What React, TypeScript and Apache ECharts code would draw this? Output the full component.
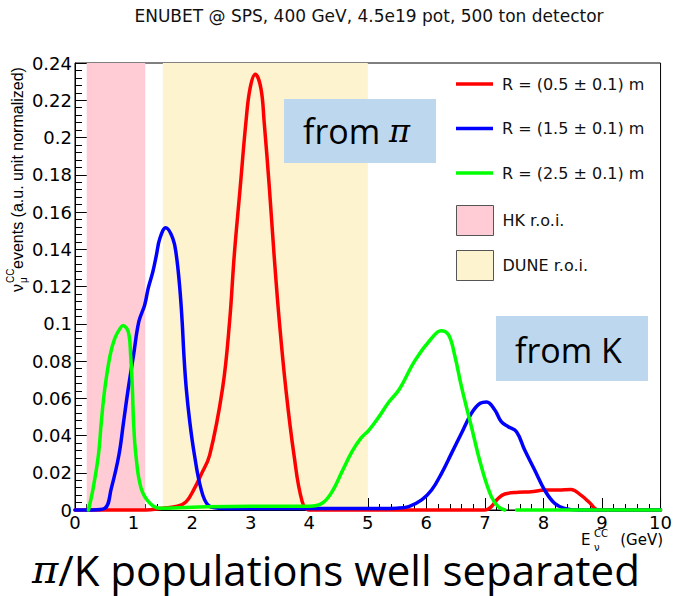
import React, { useEffect, useRef } from "react";
import * as echarts from "echarts";

// ---- data ----
const redName = "R = (0.5 ± 0.1) m";
const blueName = "R = (1.5 ± 0.1) m";
const greenName = "R = (2.5 ± 0.1) m";
const hkName = "HK r.o.i.";
const duneName = "DUNE r.o.i.";

const redE = [0, 0.6, 1.2, 1.5, 1.75, 1.9, 2.04, 2.15, 2.3, 2.52, 2.64, 2.72, 2.82, 2.92, 2.99, 3.08, 3.175, 3.23, 3.32, 3.4, 3.49, 3.6, 3.74, 3.88, 4.0, 4.5, 5.5, 6.5, 7.0, 7.11, 7.23, 7.34, 7.57, 7.79, 8.02, 8.25, 8.47, 8.64, 8.79, 8.93, 9.3, 10];
const redV = [0, 0, 0, 0.001, 0.002, 0.0045, 0.0116, 0.0188, 0.0295, 0.0653, 0.1011, 0.1369, 0.1727, 0.2085, 0.2264, 0.2339, 0.2264, 0.2085, 0.1727, 0.1369, 0.1011, 0.0653, 0.0295, 0.0045, 0, 0, 0, 0, 0, 0.0018, 0.0063, 0.0086, 0.0095, 0.0098, 0.0107, 0.0107, 0.011, 0.008, 0.0039, 0, 0, 0];

const blueE = [0, 0.3, 0.51, 0.62, 0.75, 0.83, 0.91, 1.0, 1.09, 1.19, 1.25, 1.33, 1.39, 1.45, 1.55, 1.67, 1.73, 1.79, 1.83, 1.86, 1.9, 1.96, 2.04, 2.15, 2.27, 2.45, 3, 4, 5, 5.5, 5.7, 5.92, 6.09, 6.26, 6.43, 6.6, 6.77, 6.92, 7.03, 7.17, 7.28, 7.4, 7.54, 7.68, 7.85, 8.02, 8.19, 8.36, 8.6, 9, 10];
const blueV = [0, 0, 0.0009, 0.0116, 0.0295, 0.0474, 0.0653, 0.0832, 0.1011, 0.1101, 0.119, 0.128, 0.1369, 0.1459, 0.1516, 0.1459, 0.1369, 0.119, 0.1011, 0.0832, 0.0653, 0.0474, 0.0295, 0.0116, 0.0027, 0.001, 0.0008, 0.0008, 0.0008, 0.001, 0.0018, 0.0054, 0.0107, 0.0197, 0.0304, 0.0412, 0.0519, 0.0573, 0.058, 0.0537, 0.0474, 0.0447, 0.042, 0.0322, 0.0215, 0.0107, 0.0036, 0.0009, 0, 0, 0];

const greenE = [0.23, 0.31, 0.4, 0.45, 0.51, 0.6, 0.68, 0.77, 0.82, 0.91, 0.95, 0.98, 1.0, 1.04, 1.13, 1.28, 1.45, 2, 3, 4, 4.22, 4.39, 4.56, 4.73, 4.88, 5.02, 5.19, 5.36, 5.53, 5.81, 6.09, 6.25, 6.38, 6.49, 6.6, 6.77, 6.94, 7.11, 7.23, 7.34, 7.44, 7.54, 8, 9, 10];
const greenV: (number | null)[] = [0, 0.0116, 0.0295, 0.0474, 0.0653, 0.0832, 0.0922, 0.0975, 0.099, 0.0957, 0.0832, 0.0653, 0.0474, 0.0295, 0.0116, 0.0036, 0.001, 0.0015, 0.002, 0.002, 0.0036, 0.0098, 0.0206, 0.0313, 0.0385, 0.0429, 0.05, 0.058, 0.0644, 0.0805, 0.0922, 0.0963, 0.094, 0.0823, 0.0662, 0.0447, 0.0233, 0.0072, 0.0018, 0, null, 0, 0, 0, 0];

const hkRange = [0.2, 1.2];
const duneRange = [1.5, 5.0];

const xMin = 0, xMax = 10, xStep = 1;
const yMin = 0, yMax = 0.24, yStep = 0.02;

const titleText = "ENUBET @ SPS, 400 GeV, 4.5e19 pot, 500 ton detector";
const yTitle = "events (a.u. unit normalized)";
const bottomText = "/K populations well separated";

const zip = (xs: number[], ys: (number | null)[]) =>
  xs.map((x, i) => [x, ys[i] === null ? NaN : ys[i]]);

const SANS = '"DejaVu Sans"';
const HELV = '"Liberation Sans"';
const SLIDE = '"Open Sans"';
const LINE_ICON = "path://M0,0 L37,0 L37,3.5 L0,3.5 Z";

export default function App() {
  const ref = useRef<HTMLDivElement>(null);
  useEffect(() => {
    const chart = echarts.init(ref.current!, undefined, { renderer: "svg" });
    const lineSeries = (name: string, color: string, xs: number[], ys: (number | null)[], z: number) => ({
      name,
      type: "line",
      data: zip(xs, ys),
      symbol: "none",
      showSymbol: false,
      smooth: 0.4,
      clip: false,
      connectNulls: false,
      z,
      itemStyle: { color },
      lineStyle: { color, width: 3.5, cap: "round", join: "round" },
    });
    const option: any = {
      animation: false,
      backgroundColor: "#fff",
      grid: { left: 75, right: 12, top: 63, bottom: 86, show: true, borderColor: "#000", borderWidth: 1, backgroundColor: "transparent" },
      xAxis: {
        type: "value", min: xMin, max: xMax, interval: xStep,
        axisLine: { show: true, lineStyle: { color: "#000", width: 1 } },
        axisTick: { show: true, inside: true, length: 12, lineStyle: { color: "#000" } },
        minorTick: { show: true, splitNumber: 5, length: 6, lineStyle: { color: "#000" } },
        splitLine: { show: false },
        axisLabel: { color: "#000", fontFamily: SANS, fontSize: 18, lineHeight: 12, margin: 6 },
      },
      yAxis: {
        type: "value", min: yMin, max: yMax, interval: yStep,
        axisLine: { show: true, lineStyle: { color: "#000", width: 1 } },
        axisTick: { show: true, inside: true, length: 15, lineStyle: { color: "#000" } },
        minorTick: { show: true, splitNumber: 5, length: 7, lineStyle: { color: "#000" } },
        splitLine: { show: false },
        axisLabel: { color: "#000", fontFamily: SANS, fontSize: 18, margin: 3, formatter: (v: number) => String(parseFloat(v.toFixed(3))) },
      },
      legend: [
        {
          orient: "vertical", left: 451, top: 71, itemWidth: 37, itemHeight: 3.5, itemGap: 28.5,
          data: [
            { name: redName, icon: LINE_ICON },
            { name: blueName, icon: LINE_ICON },
            { name: greenName, icon: LINE_ICON },
          ],
          textStyle: { fontFamily: SANS, fontSize: 16, color: "#111", padding: [0, 0, 0, 4] },
          selectedMode: false,
        },
        {
          orient: "vertical", left: 451, top: 200, itemWidth: 37, itemHeight: 30, itemGap: 14,
          data: [
            { name: hkName, icon: "rect", itemStyle: { color: "#ffccd5", borderColor: "#555", borderWidth: 1 } },
            { name: duneName, icon: "rect", itemStyle: { color: "#fdf3cf", borderColor: "#555", borderWidth: 1 } },
          ],
          textStyle: { fontFamily: SANS, fontSize: 16, color: "#111", padding: [0, 0, 0, 4] },
          selectedMode: false,
        },
      ],
      series: [
        {
          name: hkName, type: "line", data: [], z: 1, itemStyle: { color: "#ffccd5" },
          markArea: { silent: true, itemStyle: { color: "#ffccd5", opacity: 1 }, data: [[{ xAxis: hkRange[0] }, { xAxis: hkRange[1] }]] },
        },
        {
          name: duneName, type: "line", data: [], z: 1, itemStyle: { color: "#fdf3cf" },
          markArea: { silent: true, itemStyle: { color: "#fdf3cf", opacity: 1 }, data: [[{ xAxis: duneRange[0] }, { xAxis: duneRange[1] }]] },
        },
        lineSeries(redName, "#ff0000", redE, redV, 3),
        lineSeries(blueName, "#0000ff", blueE, blueV, 4),
        lineSeries(greenName, "#00ff00", greenE, greenV, 5),
      ],
      graphic: [
        { type: "text", z: 100, x: 369, y: 16, style: { text: titleText, font: `17px ${SANS}`, fill: "#111", align: "center", verticalAlign: "middle" } },
        { type: "rect", z: 100, shape: { x: 284, y: 99, width: 152, height: 64 }, style: { fill: "#bdd7ee" } },
        {
          type: "text", z: 101, x: 303, y: 131,
          style: { text: "from {pi|π}", font: `34px ${SLIDE}`, fill: "#000", align: "left", verticalAlign: "middle",
            rich: { pi: { fontFamily: '"DejaVu Serif"', fontStyle: "italic", fontSize: 32 } } },
        },
        { type: "rect", z: 100, shape: { x: 496, y: 316, width: 152, height: 65 }, style: { fill: "#bdd7ee" } },
        { type: "text", z: 101, x: 515, y: 350, style: { text: "from K", font: `34px ${SLIDE}`, fill: "#000", align: "left", verticalAlign: "middle" } },
        // x-axis title
        { type: "text", z: 100, x: 581, y: 540, style: { text: "E", font: `15px ${SANS}`, lineHeight: 13, fill: "#000", align: "left", verticalAlign: "middle" } },
        { type: "text", z: 100, x: 594, y: 533, style: { text: "CC", font: `10px ${SANS}`, lineHeight: 9, fill: "#000", align: "left", verticalAlign: "middle" } },
        { type: "text", z: 100, x: 594, y: 547, style: { text: "ν", font: `10px ${SANS}`, lineHeight: 9, fill: "#000", align: "left", verticalAlign: "middle" } },
        { type: "text", z: 100, x: 663, y: 540, style: { text: "(GeV)", font: `15px ${SANS}`, lineHeight: 13, fill: "#000", align: "right", verticalAlign: "middle" } },
        // y-axis title
        {
          type: "group", z: 100, x: 17, y: 292, rotation: Math.PI / 2,
          children: [
            { type: "text", z: 100, x: 0, y: 0, style: { text: "ν", font: `16px ${HELV}`, fill: "#000", align: "left", verticalAlign: "middle" } },
            { type: "text", z: 100, x: 9, y: -7, style: { text: "CC", font: `10px ${HELV}`, fill: "#000", align: "left", verticalAlign: "middle" } },
            { type: "text", z: 100, x: 9, y: 6, style: { text: "μ", font: `10px ${HELV}`, fill: "#000", align: "left", verticalAlign: "middle" } },
            { type: "text", z: 100, x: 23, y: 0, style: { text: yTitle, font: `16px ${HELV}`, fill: "#000", align: "left", verticalAlign: "middle" } },
          ],
        },
        // bottom slide caption
        {
          type: "text", z: 100, x: 32, y: 569,
          style: { text: "{pi|π}" + bottomText, font: `42px ${SLIDE}`, lineHeight: 34, fill: "#000", align: "left", verticalAlign: "middle",
            rich: { pi: { fontFamily: '"DejaVu Serif"', fontStyle: "italic", fontSize: 40, lineHeight: 34 } } },
        },
      ],
    };
    chart.setOption(option);
    return () => chart.dispose();
  }, []);
  return <div ref={ref} style={{ width: 675, height: 596, position: "absolute", left: 0, top: 0 }} />;
}
